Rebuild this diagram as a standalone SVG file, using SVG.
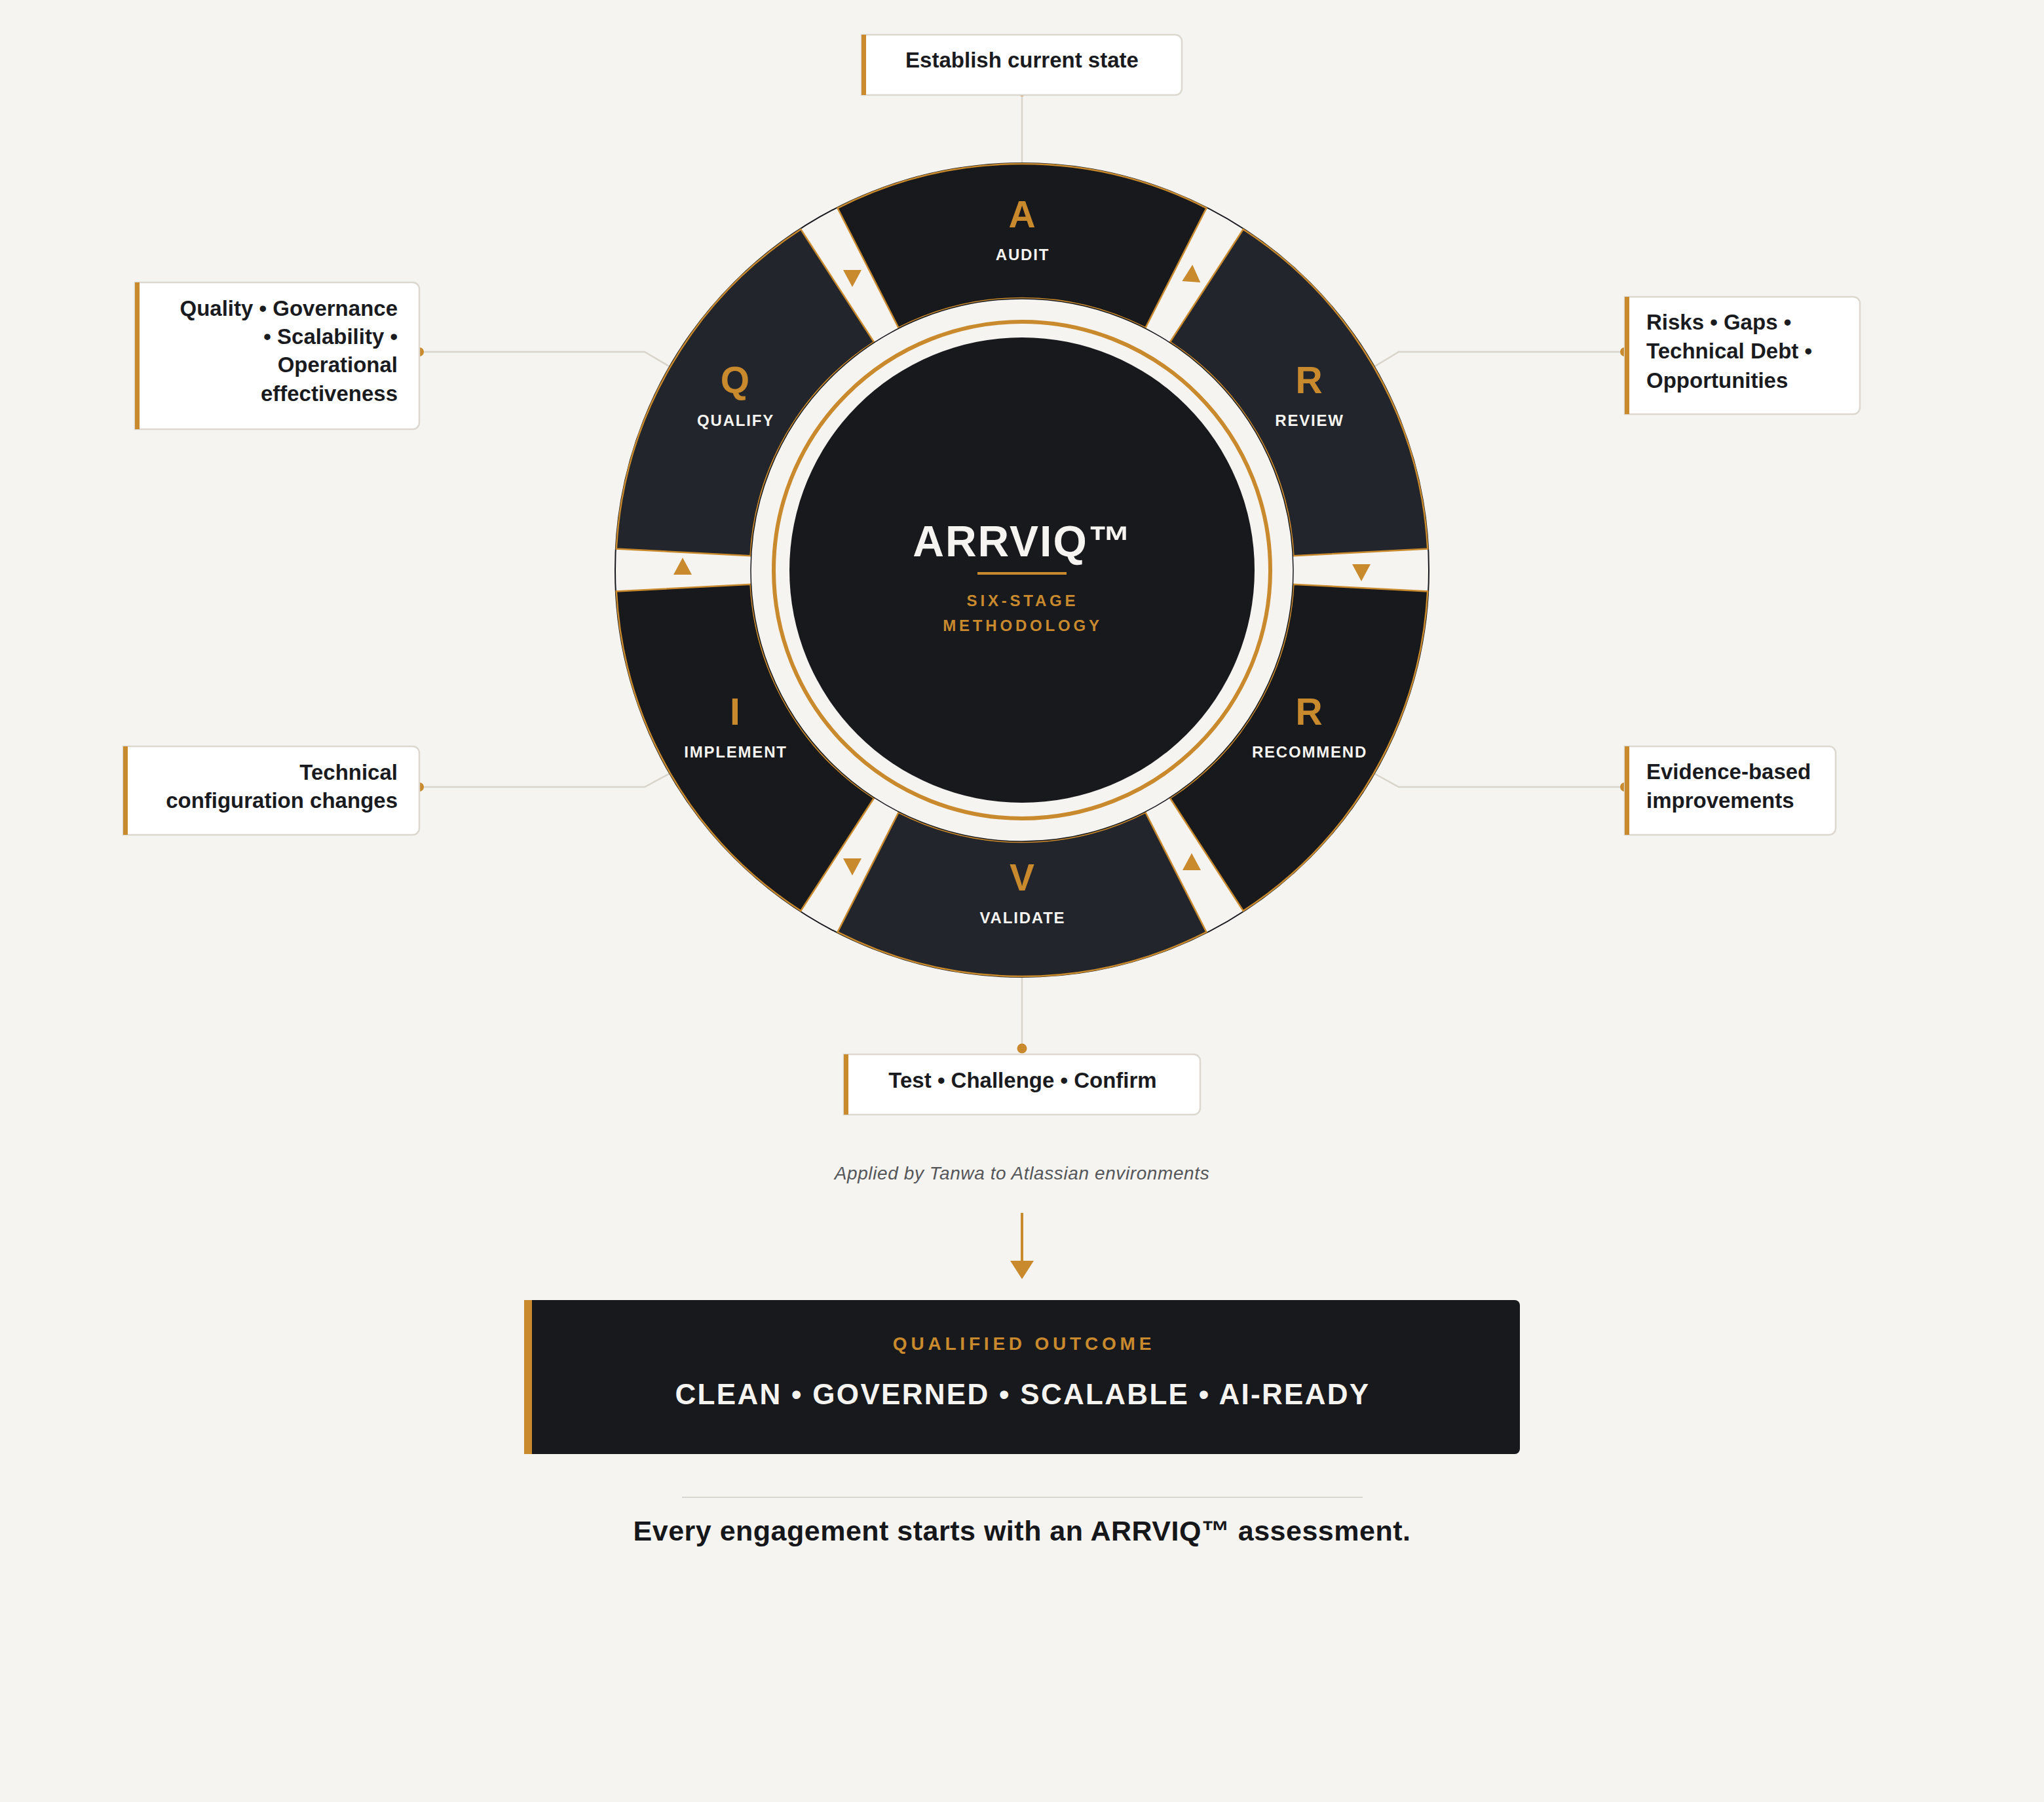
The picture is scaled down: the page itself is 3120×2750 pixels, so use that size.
<svg xmlns="http://www.w3.org/2000/svg" width="3120" height="2750" viewBox="0 0 3120 2750">
<style>
.bg{fill:#f6f4f0}
.seg{stroke:#c98a2e;stroke-width:2.5}
.segd{fill:#18191d}
.segl{fill:#22252c}
.letter{font-family:"Liberation Sans",Arial,sans-serif;font-weight:bold;font-size:57px;fill:#c98a2e;text-anchor:middle}
.stage{font-family:"Liberation Sans",Arial,sans-serif;font-weight:bold;font-size:24px;letter-spacing:1.8px;fill:#f6f4f0;text-anchor:middle}
.tri{fill:#c98a2e}
.box{fill:#ffffff;stroke:#dcd8d0;stroke-width:2.5}
.bar{fill:#c98a2e}
.bt{font-family:"Liberation Sans",Arial,sans-serif;font-weight:bold;font-size:33px;fill:#1a1b1f}
.conn{fill:none;stroke:#d8d4cc;stroke-width:2.5}
.dot{fill:#c98a2e}
</style>
<rect x="0" y="0" width="3120" height="2750" class="bg"/>

<g id="connectors">
  <line class="conn" x1="1560" y1="145" x2="1560" y2="250"/>
  <polyline class="conn" points="640,537 984,537 1023,560"/>
  <polyline class="conn" points="2480,537 2135,537 2097,560"/>
  <polyline class="conn" points="640,1201 984,1201 1023,1180"/>
  <polyline class="conn" points="2480,1201 2135,1201 2097,1180"/>
  <line class="conn" x1="1560" y1="1490" x2="1560" y2="1600"/>
  <circle class="dot" cx="1560" cy="140" r="7"/>
  <circle class="dot" cx="640" cy="537" r="7"/>
  <circle class="dot" cx="2480" cy="537" r="7"/>
  <circle class="dot" cx="640" cy="1201" r="7"/>
  <circle class="dot" cx="2480" cy="1201" r="7"/>
  <circle class="dot" cx="1560" cy="1600" r="7.5"/>
  <line x1="1560" y1="1851" x2="1560" y2="1928" stroke="#c98a2e" stroke-width="4"/>
  <polygon class="tri" points="1542,1924 1578,1924 1560,1952"/>
</g>

<g id="wheel">
  <circle cx="1560" cy="870" r="621" fill="#f6f4f0" stroke="#18191d" stroke-width="2"/>
  <g id="stage-audit">
    <path class="seg segd" d="M1278.53,317.57 A620,620 0 0 1 1841.47,317.57 L1748.41,500.23 A415,415 0 0 0 1371.59,500.23 Z"/>
    <text class="letter" x="1560" y="347">A</text>
    <text class="stage" x="1561" y="397">AUDIT</text>
  </g>
  <g id="stage-review">
    <path class="seg segl" d="M1897.68,350.02 A620,620 0 0 1 2179.15,837.55 L1974.43,848.28 A415,415 0 0 0 1786.03,521.95 Z"/>
    <text class="letter" x="1998" y="600">R</text>
    <text class="stage" x="1999" y="650">REVIEW</text>
  </g>
  <g id="stage-recommend">
    <path class="seg segd" d="M2179.15,902.45 A620,620 0 0 1 1897.68,1389.98 L1786.03,1218.05 A415,415 0 0 0 1974.43,891.72 Z"/>
    <text class="letter" x="1998" y="1106">R</text>
    <text class="stage" x="1999" y="1156">RECOMMEND</text>
  </g>
  <g id="stage-validate">
    <path class="seg segl" d="M1841.47,1422.43 A620,620 0 0 1 1278.53,1422.43 L1371.59,1239.77 A415,415 0 0 0 1748.41,1239.77 Z"/>
    <text class="letter" x="1560" y="1359">V</text>
    <text class="stage" x="1561" y="1409">VALIDATE</text>
  </g>
  <g id="stage-implement">
    <path class="seg segd" d="M1222.32,1389.98 A620,620 0 0 1 940.85,902.45 L1145.57,891.72 A415,415 0 0 0 1333.97,1218.05 Z"/>
    <text class="letter" x="1122" y="1106">I</text>
    <text class="stage" x="1123" y="1156">IMPLEMENT</text>
  </g>
  <g id="stage-qualify">
    <path class="seg segl" d="M940.85,837.55 A620,620 0 0 1 1222.32,350.02 L1333.97,521.95 A415,415 0 0 0 1145.57,848.28 Z"/>
    <text class="letter" x="1122" y="600">Q</text>
    <text class="stage" x="1123" y="650">QUALIFY</text>
  </g>
  <g id="flow-arrows">
    <polygon class="tri" points="1819,404 1833,430 1805,430" transform="rotate(4 1819 421)"/>
    <polygon class="tri" points="2078,887 2064,861 2092,861"/>
    <polygon class="tri" points="1819,1302 1833,1328 1805,1328"/>
    <polygon class="tri" points="1301,1336 1287,1310 1315,1310"/>
    <polygon class="tri" points="1042,851 1056,877 1028,877"/>
    <polygon class="tri" points="1301,438 1287,412 1315,412"/>
  </g>
  <circle cx="1560" cy="870" r="414" fill="#f6f4f0" stroke="#18191d" stroke-width="1.5"/>
  <circle cx="1560" cy="870" r="379" fill="none" stroke="#c98a2e" stroke-width="6"/>
</g>

<g id="center">
  <circle cx="1560" cy="870" r="355" fill="#18191d"/>
  <text x="1561" y="849" font-family="'Liberation Sans',Arial,sans-serif" font-weight="bold" font-size="66" letter-spacing="2" fill="#f6f4f0" text-anchor="middle">ARRVIQ™</text>
  <rect x="1492" y="873" width="136" height="4" fill="#c98a2e"/>
  <text x="1561" y="925" font-family="'Liberation Sans',Arial,sans-serif" font-weight="bold" font-size="24" letter-spacing="4.8" fill="#c98a2e" text-anchor="middle">SIX-STAGE</text>
  <text x="1561" y="963" font-family="'Liberation Sans',Arial,sans-serif" font-weight="bold" font-size="24" letter-spacing="4.8" fill="#c98a2e" text-anchor="middle">METHODOLOGY</text>
</g>

<g id="callout-audit">
  <path class="box" d="M1315,53 H1794 A10,10 0 0 1 1804,63 V135 A10,10 0 0 1 1794,145 H1315 Z"/>
  <rect class="bar" x="1315" y="53" width="7" height="92"/>
  <text class="bt" x="1560" y="103" text-anchor="middle">Establish current state</text>
</g>

<g id="callout-qualify">
  <path class="box" d="M206,431 H630 A10,10 0 0 1 640,441 V645 A10,10 0 0 1 630,655 H206 Z"/>
  <rect class="bar" x="206" y="431" width="7" height="224"/>
  <text class="bt" text-anchor="end"><tspan x="607" y="482">Quality • Governance</tspan><tspan x="607" y="525">• Scalability •</tspan><tspan x="607" y="568">Operational</tspan><tspan x="607" y="612">effectiveness</tspan></text>
</g>

<g id="callout-review">
  <path class="box" d="M2480,453 H2829 A10,10 0 0 1 2839,463 V622 A10,10 0 0 1 2829,632 H2480 Z"/>
  <rect class="bar" x="2480" y="453" width="7" height="179"/>
  <text class="bt"><tspan x="2513" y="503">Risks • Gaps •</tspan><tspan x="2513" y="547">Technical Debt •</tspan><tspan x="2513" y="592">Opportunities</tspan></text>
</g>

<g id="callout-implement">
  <path class="box" d="M188,1139 H630 A10,10 0 0 1 640,1149 V1264 A10,10 0 0 1 630,1274 H188 Z"/>
  <rect class="bar" x="188" y="1139" width="7" height="135"/>
  <text class="bt" text-anchor="end"><tspan x="607" y="1190">Technical</tspan><tspan x="607" y="1233">configuration changes</tspan></text>
</g>

<g id="callout-recommend">
  <path class="box" d="M2480,1139 H2792 A10,10 0 0 1 2802,1149 V1264 A10,10 0 0 1 2792,1274 H2480 Z"/>
  <rect class="bar" x="2480" y="1139" width="7" height="135"/>
  <text class="bt"><tspan x="2513" y="1189">Evidence-based</tspan><tspan x="2513" y="1233">improvements</tspan></text>
</g>

<g id="callout-validate">
  <path class="box" d="M1288,1609 H1822 A10,10 0 0 1 1832,1619 V1691 A10,10 0 0 1 1822,1701 H1288 Z"/>
  <rect class="bar" x="1288" y="1609" width="7" height="92"/>
  <text class="bt" x="1561" y="1660" text-anchor="middle">Test • Challenge • Confirm</text>
</g>

<g id="applied-note">
  <text x="1560" y="1800" font-family="'Liberation Sans',Arial,sans-serif" font-style="italic" font-size="28" letter-spacing="0.6" fill="#55565a" text-anchor="middle">Applied by Tanwa to Atlassian environments</text>
</g>

<g id="outcome">
  <path d="M800,1984 H2312 A8,8 0 0 1 2320,1992 V2211 A8,8 0 0 1 2312,2219 H800 Z" fill="#18191d"/>
  <rect x="800" y="1984" width="12" height="235" fill="#c98a2e"/>
  <text x="1563" y="2060" font-family="'Liberation Sans',Arial,sans-serif" font-weight="bold" font-size="28" letter-spacing="5.8" fill="#c98a2e" text-anchor="middle">QUALIFIED OUTCOME</text>
  <text x="1561" y="2143" font-family="'Liberation Sans',Arial,sans-serif" font-weight="bold" font-size="44" letter-spacing="2.3" fill="#f6f4f0" text-anchor="middle">CLEAN • GOVERNED • SCALABLE • AI-READY</text>
</g>

<g id="footer">
  <line x1="1041" y1="2285" x2="2080" y2="2285" stroke="#d9d6cf" stroke-width="2"/>
  <text x="1560" y="2351" font-family="'Liberation Sans',Arial,sans-serif" font-weight="bold" font-size="43" letter-spacing="0.5" fill="#16171b" text-anchor="middle">Every engagement starts with an ARRVIQ™ assessment.</text>
</g>
</svg>
